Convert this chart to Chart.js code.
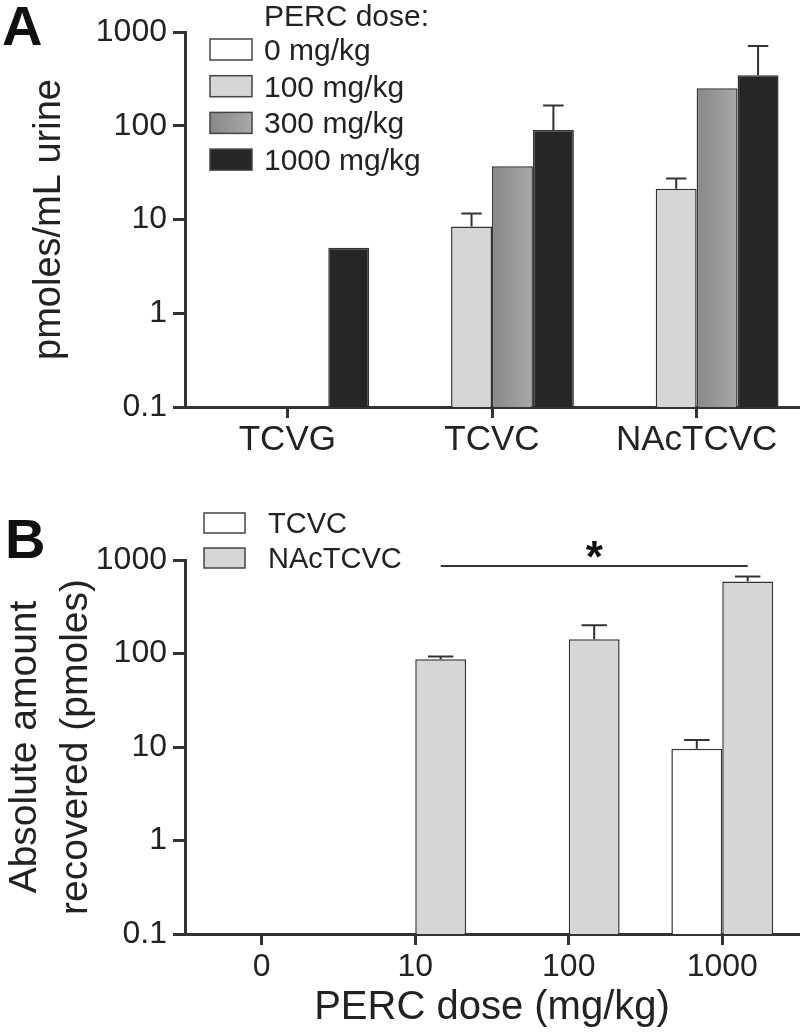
<!DOCTYPE html>
<html>
<head>
<script src="https://cdn.jsdelivr.net/npm/chart.js"></script>
<title>PERC metabolites in urine</title>
<style>
  body {
    margin: 0;
    background: #fff;
  }
  .panel {
    position: absolute;
    left: 0;
    width: 800px;
  }
  #panelA { top: 0; height: 470px; }
  #panelB { top: 470px; height: 562px; }
</style>
</head>
<body>
<div class="panel" id="panelA"><canvas id="chartA"></canvas></div>
<div class="panel" id="panelB"><canvas id="chartB"></canvas></div>

<script>
  // Panel A: urinary concentration per metabolite and dose
  const metabolites = ['TCVG', 'TCVC', 'NAcTCVC'];
  const doseLabels = ['0 mg/kg', '100 mg/kg', '300 mg/kg', '1000 mg/kg'];
  const dose0 = [null, null, null];
  const dose100 = [null, 8.4, 21.3];
  const dose100Err = [null, 3.2, 6];
  const dose300 = [null, 37, 251];
  const dose1000 = [5, 90, 345];
  const dose1000Err = [null, 74, 364];

  // Panel B: absolute amount recovered
  const doses = ['0', '10', '100', '1000'];
  const tcvcAmount = [null, null, null, 9.6];
  const tcvcErr = [null, null, null, 2.3];
  const nacAmount = [null, 87, 142, 589];
  const nacErr = [null, 6, 59, 77];
  const sigLevel = 860;

  const logTicks = [0.1, 1, 10, 100, 1000];

  Chart.defaults.font.family = "'Liberation Sans', Arial, sans-serif";
  Chart.defaults.color = '#222';

  // left-to-right shaded grey for the 300 mg/kg bars, placed from the x scale
  function shadedGrey(c) {
    const chart = c.chart;
    const xs = chart.scales.x;
    if (!xs || c.dataIndex === undefined) return '#9a9a9a';
    const n = chart.data.datasets.length;
    const groupW = (xs.width / chart.data.labels.length) * chart.options.categoryPercentage;
    const barW = groupW / n;
    const left = xs.getPixelForValue(c.dataIndex) - groupW / 2 + c.datasetIndex * barW;
    if (!Number.isFinite(left) || !Number.isFinite(barW) || barW <= 0) return '#9a9a9a';
    const g = chart.ctx.createLinearGradient(left, 0, left + barW, 0);
    g.addColorStop(0, '#888888');
    g.addColorStop(1, '#a8a8a8');
    return g;
  }

  // upper error bars, drawn from each bar's top
  const errorBars = {
    id: 'errorBars',
    afterDatasetsDraw(chart) {
      const ctx = chart.ctx;
      const y = chart.scales.y;
      ctx.save();
      ctx.strokeStyle = '#333';
      ctx.lineWidth = 2;
      chart.data.datasets.forEach((ds, di) => {
        if (!ds.errors) return;
        const meta = chart.getDatasetMeta(di);
        ds.errors.forEach((e, i) => {
          const v = ds.data[i];
          if (v == null || e == null) return;
          const bar = meta.data[i];
          const top = y.getPixelForValue(v + e);
          const half = bar.width * 0.25;
          ctx.beginPath();
          ctx.moveTo(bar.x, bar.y);
          ctx.lineTo(bar.x, top);
          ctx.moveTo(bar.x - half, top);
          ctx.lineTo(bar.x + half, top);
          ctx.stroke();
        });
      });
      ctx.restore();
    }
  };

  // legend with boxes + panel letter
  const boxLegend = {
    id: 'boxLegend',
    afterDraw(chart, args, o) {
      const ctx = chart.ctx;
      ctx.save();
      ctx.textAlign = 'left';
      ctx.textBaseline = 'alphabetic';
      ctx.fillStyle = '#111';
      ctx.font = "bold 56px 'Liberation Sans', Arial, sans-serif";
      ctx.fillText(o.letter, o.letterX, o.letterY);
      ctx.font = o.font;
      ctx.fillStyle = '#222';
      if (o.title) ctx.fillText(o.title, o.textX, o.titleY);
      chart.data.datasets.forEach((ds, i) => {
        const top = o.top + i * o.step;
        if (typeof ds.backgroundColor === 'function') {
          const g = ctx.createLinearGradient(o.boxX, 0, o.boxX + o.boxW, 0);
          g.addColorStop(0, '#888888');
          g.addColorStop(1, '#a8a8a8');
          ctx.fillStyle = g;
        } else {
          ctx.fillStyle = ds.backgroundColor;
        }
        ctx.fillRect(o.boxX, top, o.boxW, o.boxH);
        ctx.strokeStyle = '#444';
        ctx.lineWidth = 1.5;
        ctx.strokeRect(o.boxX, top, o.boxW, o.boxH);
        ctx.fillStyle = '#222';
        ctx.fillText(ds.label, o.textX, top + o.boxH);
      });
      ctx.restore();
    }
  };

  // significance bar between two bars of one dataset
  const sigBar = {
    id: 'sigBar',
    afterDraw(chart, args, o) {
      if (!o.show) return;
      const meta = chart.getDatasetMeta(o.dataset);
      const x1 = meta.data[o.from].x;
      const x2 = meta.data[o.to].x;
      const yy = chart.scales.y.getPixelForValue(o.value);
      const ctx = chart.ctx;
      ctx.save();
      ctx.strokeStyle = '#333';
      ctx.lineWidth = 2;
      ctx.beginPath();
      ctx.moveTo(x1, yy);
      ctx.lineTo(x2, yy);
      ctx.stroke();
      ctx.fillStyle = '#111';
      ctx.font = "bold 44px 'Liberation Sans', Arial, sans-serif";
      ctx.textAlign = 'center';
      ctx.textBaseline = 'alphabetic';
      ctx.fillText('*', (x1 + x2) / 2, yy + 6);
      ctx.restore();
    }
  };

  function logAxis(title) {
    return {
      type: 'logarithmic',
      min: 0.1,
      max: 1000,
      afterBuildTicks: s => { s.ticks = logTicks.map(v => ({ value: v })); },
      afterFit: s => { s.width = 185; },
      ticks: {
        autoSkip: false,
        callback: v => String(v),
        font: { size: 32 },
        color: '#222',
        padding: 6
      },
      grid: { drawOnChartArea: false, drawTicks: true, tickLength: 12, color: '#333', lineWidth: 3 },
      border: { color: '#333', width: 3 },
      title: title
    };
  }

  function catAxis(height, fontSize, pad, title) {
    return {
      afterFit: s => { s.height = height; },
      ticks: { font: { size: fontSize }, color: '#222', padding: pad },
      grid: { drawOnChartArea: false, offset: false, tickLength: 11, color: '#333', lineWidth: 3 },
      border: { color: '#333', width: 3 },
      title: title || { display: false }
    };
  }

  const barStyle = { borderColor: '#333', borderWidth: 1.5, barPercentage: 1 };

  new Chart(document.getElementById('chartA'), {
    type: 'bar',
    data: {
      labels: metabolites,
      datasets: [
        { label: doseLabels[0], data: dose0, backgroundColor: '#ffffff', ...barStyle },
        { label: doseLabels[1], data: dose100, errors: dose100Err, backgroundColor: '#d6d6d6', ...barStyle },
        { label: doseLabels[2], data: dose300, backgroundColor: shadedGrey, ...barStyle },
        { label: doseLabels[3], data: dose1000, errors: dose1000Err, backgroundColor: '#262626', ...barStyle }
      ]
    },
    options: {
      responsive: true,
      maintainAspectRatio: false,
      animation: false,
      categoryPercentage: 0.8,
      layout: { padding: { top: 32, right: 1, left: 0, bottom: 0 } },
      scales: {
        x: catAxis(63, 35, 1),
        y: logAxis({ display: true, text: 'pmoles/mL urine', font: { size: 38 }, color: '#222', padding: { top: 27, bottom: 0 } })
      },
      plugins: {
        legend: { display: false },
        tooltip: { enabled: false },
        boxLegend: {
          letter: 'A', letterX: 2, letterY: 45,
          font: "30px 'Liberation Sans', Arial, sans-serif",
          title: 'PERC dose:', titleY: 26,
          boxX: 210, boxW: 42, boxH: 21, top: 39, step: 36.7, textX: 264
        },
        sigBar: { show: false }
      }
    },
    plugins: [errorBars, boxLegend, sigBar]
  });

  new Chart(document.getElementById('chartB'), {
    type: 'bar',
    data: {
      labels: doses,
      datasets: [
        { label: 'TCVC', data: tcvcAmount, errors: tcvcErr, backgroundColor: '#ffffff', ...barStyle },
        { label: 'NAcTCVC', data: nacAmount, errors: nacErr, backgroundColor: '#d6d6d6', ...barStyle }
      ]
    },
    options: {
      responsive: true,
      maintainAspectRatio: false,
      animation: false,
      categoryPercentage: 0.663,
      layout: { padding: { top: 90, right: 1, left: 0, bottom: 0 } },
      scales: {
        x: catAxis(98, 32, 3, { display: true, text: 'PERC dose (mg/kg)', font: { size: 40 }, color: '#222', padding: { top: 0, bottom: 0 } }),
        y: logAxis({ display: true, text: ['Absolute amount', 'recovered (pmoles)'], font: { size: 39, lineHeight: 1.3 }, color: '#222', padding: { top: 0, bottom: 0 } })
      },
      plugins: {
        legend: { display: false },
        tooltip: { enabled: false },
        boxLegend: {
          letter: 'B', letterX: 5, letterY: 88,
          font: "29px 'Liberation Sans', Arial, sans-serif",
          title: null,
          boxX: 204, boxW: 41, boxH: 20, top: 43, step: 35, textX: 268
        },
        sigBar: { show: true, dataset: 1, from: 1, to: 3, value: sigLevel }
      }
    },
    plugins: [errorBars, boxLegend, sigBar]
  });
</script>
</body>
</html>
